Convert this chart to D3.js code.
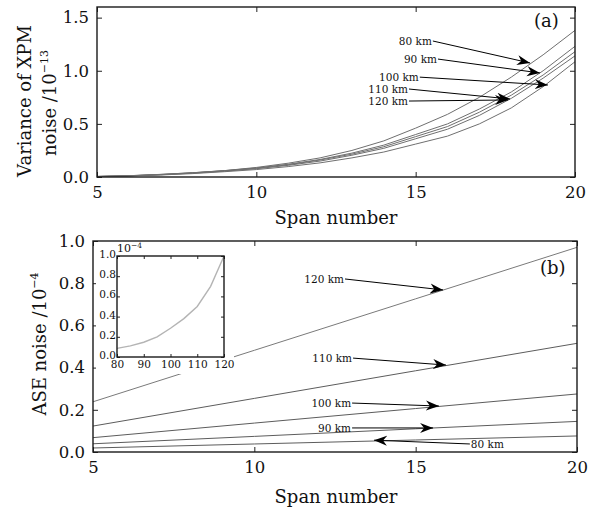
<!DOCTYPE html>
<html>
<head>
<meta charset="utf-8">
<script src="https://cdn.jsdelivr.net/npm/d3@7"></script>
<style>
  body { margin: 0; background: #fff; }
  svg { display: block; }
  svg text { font-family: "DejaVu Serif", "Liberation Serif", serif; fill: #111; }
  .tick line { stroke: #222; }
</style>
</head>
<body>
<script>
// ---------- data ----------
const spans = [5, 6, 7, 8, 9, 10, 11, 12, 13, 14, 15, 16, 17, 18, 19, 20];
const xpm80  = [0.005, 0.012, 0.025, 0.040, 0.060, 0.090, 0.130, 0.180, 0.250, 0.340, 0.460, 0.590, 0.750, 0.940, 1.150, 1.380];
const xpm90  = [0.005, 0.012, 0.024, 0.040, 0.060, 0.085, 0.120, 0.165, 0.225, 0.300, 0.400, 0.500, 0.640, 0.800, 1.000, 1.230];
const xpm100 = [0.005, 0.011, 0.022, 0.038, 0.058, 0.082, 0.115, 0.160, 0.215, 0.285, 0.380, 0.475, 0.610, 0.770, 0.960, 1.180];
const xpm110 = [0.005, 0.011, 0.021, 0.036, 0.055, 0.078, 0.110, 0.150, 0.205, 0.270, 0.360, 0.450, 0.580, 0.740, 0.930, 1.140];
const xpm120 = [0.004, 0.010, 0.019, 0.032, 0.050, 0.070, 0.098, 0.133, 0.180, 0.235, 0.310, 0.385, 0.500, 0.650, 0.850, 1.085];

const aseSpans = [5, 10, 15, 20];
const ase80  = [0.019, 0.038, 0.057, 0.076];
const ase90  = [0.039, 0.074, 0.110, 0.145];
const ase100 = [0.068, 0.137, 0.206, 0.275];
const ase110 = [0.123, 0.254, 0.385, 0.515];
const ase120 = [0.238, 0.482, 0.726, 0.970];

const ratio    = [80, 85, 90, 95, 100, 105, 110, 115, 120];
const aseRatio = [0.085, 0.110, 0.146, 0.200, 0.285, 0.380, 0.500, 0.700, 1.000];

const kmLabels = ["80 km", "90 km", "100 km", "110 km", "120 km"];
// annotation arrows, [span, value]
const xpmFrom = [[15.54, 1.28], [15.70, 1.11], [15.13, 0.94], [14.79, 0.828], [14.79, 0.715]];
const xpmTo   = [[18.59, 1.073], [18.90, 0.979], [19.15, 0.866], [17.96, 0.734], [17.90, 0.725]];
const aseFrom = [[16.68, 0.038], [13.03, 0.114], [13.03, 0.232], [13.06, 0.445], [12.81, 0.82]];
const aseTo   = [[13.71, 0.056], [15.54, 0.114], [15.72, 0.218], [15.94, 0.412], [15.85, 0.768]];

const xTicks = [5, 10, 15, 20];
const xpmTicks = [0, 0.5, 1.0, 1.5];
const aseTicks = [0, 0.2, 0.4, 0.6, 0.8, 1.0];
const insetXTicks = [80, 90, 100, 110, 120];
const insetYTicks = [0, 0.2, 0.4, 0.6, 0.8, 1.0];

// ---------- svg ----------
const w = 597, h = 511;
const svg = d3.select("body").append("svg").attr("width", w).attr("height", h);

const defs = svg.append("defs");
defs.append("marker")
    .attr("id", "head")
    .attr("viewBox", "-13 -6 14 12")
    .attr("refX", 0).attr("refY", 0)
    .attr("markerWidth", 14).attr("markerHeight", 12)
    .attr("markerUnits", "userSpaceOnUse")
    .attr("orient", "auto")
    .append("path")
    .attr("d", "M0,0 L-13,-5 L-9,0 L-13,5 Z")
    .attr("fill", "#000");

const fmt1 = d3.format(".1f");

function frame(g, x, y) {
  g.append("rect")
    .attr("x", x.range()[0]).attr("y", y.range()[1])
    .attr("width", x.range()[1] - x.range()[0])
    .attr("height", y.range()[0] - y.range()[1])
    .attr("fill", "none").attr("stroke", "#1a1a1a").attr("stroke-width", 1.4);
}

function axes(g, x, y, xt, yt, fontSize, tick, padX, padY) {
  const bottom = g.append("g").attr("transform", "translate(0," + y.range()[0] + ")")
    .call(d3.axisBottom(x).tickValues(xt).tickSize(-tick).tickPadding(padX).tickFormat(d3.format("d")));
  const top = g.append("g").attr("transform", "translate(0," + y.range()[1] + ")")
    .call(d3.axisTop(x).tickValues(xt).tickSize(-tick).tickFormat(""));
  const left = g.append("g").attr("transform", "translate(" + x.range()[0] + ",0)")
    .call(d3.axisLeft(y).tickValues(yt).tickSize(-tick).tickPadding(padY).tickFormat(fmt1));
  const right = g.append("g").attr("transform", "translate(" + x.range()[1] + ",0)")
    .call(d3.axisRight(y).tickValues(yt).tickSize(-tick).tickFormat(""));
  [bottom, top, left, right].forEach(a => {
    a.select(".domain").remove();
    a.attr("font-family", null).attr("font-size", fontSize);
    a.selectAll("text").attr("font-family", "DejaVu Serif").attr("fill", "#111");
  });
  return left;
}

function arrows(g, x, y, from, to, anchors) {
  from.forEach((f, i) => {
    g.append("line")
      .attr("x1", x(f[0])).attr("y1", y(f[1]))
      .attr("x2", x(to[i][0])).attr("y2", y(to[i][1]))
      .attr("stroke", "#000").attr("stroke-width", 1)
      .attr("marker-end", "url(#head)");
    const a = anchors[i];
    g.append("text")
      .attr("x", x(f[0]) + (a === "end" ? -1 : 1))
      .attr("y", y(f[1]))
      .attr("dy", "0.35em")
      .attr("text-anchor", a)
      .attr("font-size", 10.5)
      .text(kmLabels[i]);
  });
}

// ---------- panel (a) ----------
const xA = d3.scaleLinear().domain([5, 20]).range([97, 575]);
const yA = d3.scaleLinear().domain([0, 1.6]).range([177, 7]);
const gA = svg.append("g");

const lineA = d3.line().x((d, i) => xA(spans[i])).y(d => yA(d));
[xpm80, xpm90, xpm100, xpm110, xpm120].forEach(s => {
  gA.append("path").attr("d", lineA(s))
    .attr("fill", "none").attr("stroke", "#6f6f6f").attr("stroke-width", 1);
});
axes(gA, xA, yA, xTicks, xpmTicks, 16.5, 5, 9, 8);
frame(gA, xA, yA);
arrows(gA, xA, yA, xpmFrom, xpmTo, ["end", "end", "end", "end", "end"]);

gA.append("text").attr("x", xA(19.1)).attr("y", 27).attr("text-anchor", "middle")
  .attr("font-size", 18).text("(a)");
gA.append("text").attr("x", 336).attr("y", 224).attr("text-anchor", "middle")
  .attr("font-size", 18).text("Span number");
gA.append("text").attr("transform", "translate(31,101) rotate(-90)")
  .attr("text-anchor", "middle").attr("font-size", 18).text("Variance of XPM");
const nA = gA.append("text").attr("transform", "translate(56,103) rotate(-90)")
  .attr("text-anchor", "middle").attr("font-size", 18);
nA.append("tspan").text("noise /10");
nA.append("tspan").attr("dy", -8).attr("font-size", 11).text("\u221213");

// ---------- panel (b) ----------
const xB = d3.scaleLinear().domain([5, 20]).range([93, 577]);
const yB = d3.scaleLinear().domain([0, 1.0]).range([452, 241]);
const gB = svg.append("g");

const lineB = d3.line().x((d, i) => xB(aseSpans[i])).y(d => yB(d));
[ase80, ase90, ase100, ase110, ase120].forEach((s, i) => {
  gB.append("path").attr("d", lineB(s))
    .attr("fill", "none").attr("stroke", i === 4 ? "#7a7a7a" : "#5c5c5c").attr("stroke-width", 1);
});
axes(gB, xB, yB, xTicks, aseTicks, 16.5, 5, 9, 8);
frame(gB, xB, yB);
arrows(gB, xB, yB, aseFrom, aseTo, ["start", "end", "end", "end", "end"]);

gB.append("text").attr("x", xB(19.25)).attr("y", 274).attr("text-anchor", "middle")
  .attr("font-size", 18).text("(b)");
gB.append("text").attr("x", 336).attr("y", 503).attr("text-anchor", "middle")
  .attr("font-size", 18).text("Span number");
const nB = gB.append("text").attr("transform", "translate(46,344) rotate(-90)")
  .attr("text-anchor", "middle").attr("font-size", 18);
nB.append("tspan").text("ASE noise /10");
nB.append("tspan").attr("dy", -8).attr("font-size", 11).text("\u22124");

// ---------- inset ----------
const xI = d3.scaleLinear().domain([80, 120]).range([117, 224]);
const yI = d3.scaleLinear().domain([0, 1.0]).range([357, 256]);
const gI = svg.append("g");
gI.append("rect").attr("x", 96).attr("y", 243).attr("width", 138).attr("height", 131).attr("fill", "#fff");
gI.append("path")
  .attr("d", d3.line().x((d, i) => xI(ratio[i])).y(d => yI(d))(aseRatio))
  .attr("fill", "none").attr("stroke", "#b4b4b4").attr("stroke-width", 1.4);
const insetLeft = axes(gI, xI, yI, insetXTicks, insetYTicks, 10.5, 3, 4, 1);
insetLeft.selectAll("text").attr("dy", "0.15em");
frame(gI, xI, yI);
const pI = gI.append("text").attr("x", 117).attr("y", 252).attr("font-size", 11);
pI.append("tspan").text("10");
pI.append("tspan").attr("dy", -4).attr("font-size", 7.5).text("\u22124");
</script>
</body>
</html>
